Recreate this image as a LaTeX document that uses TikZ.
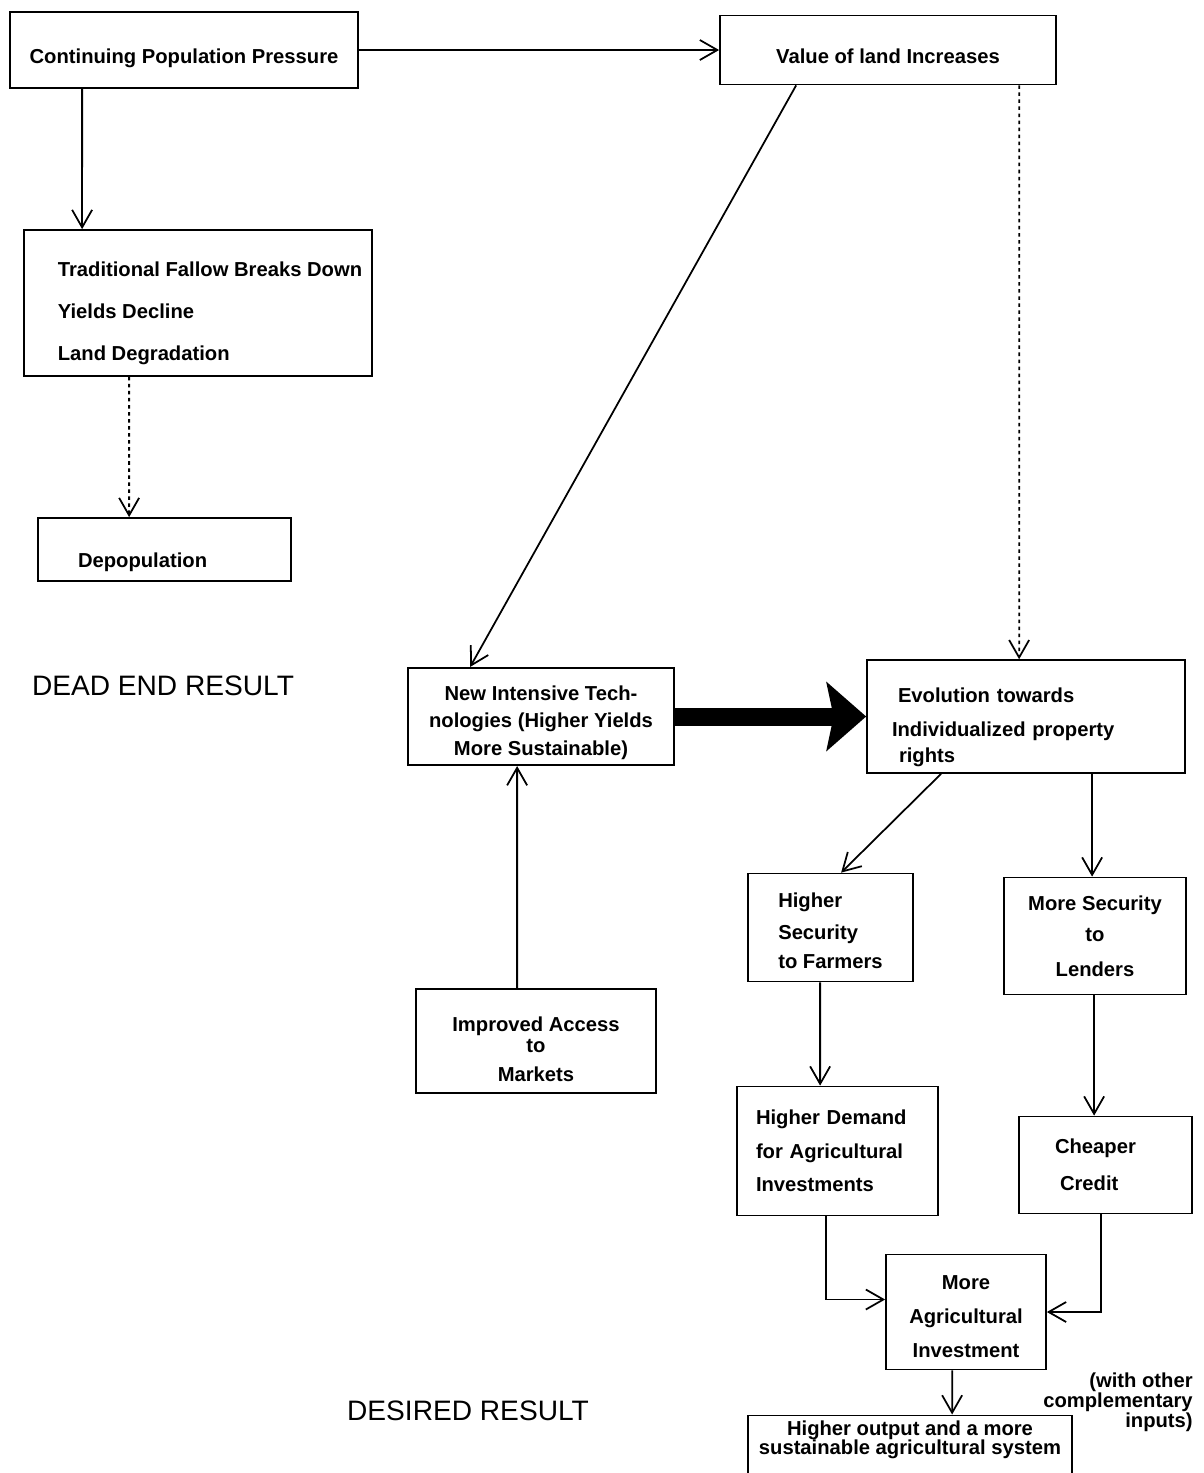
\documentclass[tikz,border=0pt]{standalone}
\usepackage{fontspec}
\setmainfont{Liberation Sans}
\usetikzlibrary{arrows.meta, positioning}

% invisible strut that pushes the first line of a box down
\newcommand{\padtop}[1]{\rule{0pt}{#1}}

\begin{document}
\begin{tikzpicture}[
        node distance=1.0cm,
        txt/.style={font=\fontsize{11.5}{14}\selectfont\bfseries},
        box/.style={rectangle, draw=black, line width=1pt, txt, align=center},
        note/.style={txt, align=right, inner sep=0pt},
        result/.style={font=\fontsize{16}{19}\selectfont},
        arrow/.style={line width=1pt, -{Straight Barb[length=0.35cm, width=0.4cm]}},
        dotarrow/.style={arrow, dash pattern=on 2pt off 2pt},
        bigarrow/.style={line width=0.36cm, -{Stealth[length=0.8cm, width=1.4cm, inset=0.15cm, line width=0pt]}}
    ]
        \useasboundingbox (0,0) rectangle (24.06,-29.46);

        \node[box, minimum width=6.96cm, minimum height=1.52cm] (pressure) at (3.68,-1.0) {\padtop{0.62cm}Continuing Population Pressure};
        \node[box, right of=pressure, xshift=13.08cm, minimum width=6.72cm, minimum height=1.38cm] (value) {\padtop{0.54cm}Value of land Increases};

        \node[box, below of=pressure, xshift=0.28cm, yshift=-4.06cm, minimum width=6.96cm, minimum height=2.92cm, align=left] (fallow) {\padtop{0.70cm}\hspace*{0.48cm}Traditional Fallow Breaks Down\\[10pt] \hspace*{0.48cm}Yields Decline\\[10pt] \hspace*{0.48cm}Land Degradation};
        \node[box, below of=fallow, xshift=-0.67cm, yshift=-3.93cm, minimum width=5.06cm, minimum height=1.26cm, align=left, text width=3.46cm, inner xsep=0.8cm, text height=0.8cm, text depth=0.08cm] (depop) {Depopulation};
        \node[result, below of=depop, xshift=-0.03cm, yshift=-1.73cm] (deadend) {DEAD END RESULT};

        \node[box, below of=value, xshift=2.76cm, yshift=-12.33cm, minimum width=6.36cm, minimum height=2.24cm, align=left, text width=5.36cm, inner xsep=0.5cm] (evolution) {\padtop{0.74cm}\hspace*{0.12cm}Evolution towards\\[5pt] Individualized property\\[1pt] \hspace*{0.14cm}rights};
        \node[box, left of=evolution, xshift=-8.70cm, minimum width=5.32cm, minimum height=1.9cm] (newtech) {\padtop{0.54cm}New Intensive Tech-\\[1pt] nologies (Higher Yields\\[2pt] More Sustainable)};
        \node[box, below of=newtech, xshift=-0.10cm, yshift=-5.49cm, minimum width=4.8cm, minimum height=2.08cm] (access) {\padtop{0.62cm}Improved Access\\[-2pt] to\\[2pt] Markets};

        \node[box, below of=evolution, xshift=-3.91cm, yshift=-3.22cm, minimum width=3.3cm, minimum height=2.16cm, align=left] (farmers) {\padtop{0.42cm}Higher\\[4pt] Security\\[2.5pt] to Farmers};
        \node[box, below of=evolution, xshift=1.38cm, yshift=-3.39cm, minimum width=3.64cm, minimum height=2.34cm] (lenders) {More Security\\[3.5pt] to\\[6pt] Lenders};
        \node[box, below of=farmers, xshift=0.14cm, yshift=-3.47cm, minimum width=4.02cm, minimum height=2.58cm, align=left, text width=3.26cm, inner xsep=0.38cm] (demand) {Higher Demand\\[5pt] for Agricultural\\[5pt] Investments};
        \node[box, below of=lenders, xshift=0.21cm, yshift=-3.58cm, minimum width=3.46cm, minimum height=1.94cm, align=left, text width=2.02cm, inner xsep=0.72cm] (cheaper) {Cheaper\\[7pt] \hspace*{0.1cm}Credit};
        \node[box, below of=demand, xshift=2.57cm, yshift=-2.22cm, minimum width=3.2cm, minimum height=2.3cm] (invest) {\padtop{0.46cm}More\\[5.5pt] Agricultural\\[5.5pt] Investment};
        \node[box, below of=invest, anchor=north, xshift=-1.12cm, yshift=-1.05cm, minimum width=6.48cm, minimum height=1.6cm,
              label={[name=outputtext, txt, anchor=north, align=center]north:{Higher output and a more\\[-3pt] sustainable agricultural system}}] (output) {};
        \node[note, below of=invest, anchor=north east, xshift=4.54cm, yshift=-0.21cm] (inputs) {(with other\\[-2.5pt] complementary\\[-2.5pt] inputs)};
        \node[result, below of=access, xshift=-1.36cm, yshift=-6.40cm] (desired) {DESIRED RESULT};

        \draw[arrow] (pressure.east) -- (value.west);
        \draw[arrow] ([xshift=1.46cm]pressure.south west) -- ([xshift=1.18cm]fallow.north west);
        \draw[dotarrow] ([xshift=2.12cm]fallow.south west) -- ([xshift=1.84cm]depop.north west);

        \draw[arrow] ([xshift=1.54cm]value.south west) -- ([xshift=1.26cm]newtech.north west);
        \draw[dotarrow] ([xshift=6.0cm]value.south west) -- ([xshift=3.06cm]evolution.north west);
        \draw[bigarrow] (newtech.east) -- (evolution.west);
        \draw[arrow] ([xshift=2.04cm]access.north west) -- ([xshift=2.2cm]newtech.south west);

        \draw[arrow] ([xshift=1.5cm]evolution.south west) -- ([xshift=1.88cm]farmers.north west);
        \draw[arrow] ([xshift=4.52cm]evolution.south west) -- ([xshift=1.78cm]lenders.north west);
        \draw[arrow] ([xshift=1.46cm]farmers.south west) -- ([xshift=1.68cm]demand.north west);
        \draw[arrow] ([xshift=1.82cm]lenders.south west) -- ([xshift=1.52cm]cheaper.north west);

        \draw[arrow] ([xshift=1.8cm]demand.south west) |- ([yshift=0.25cm]invest.west);
        \draw[arrow] ([xshift=1.66cm]cheaper.south west) |- (invest.east);
        \draw[arrow] ([xshift=1.34cm]invest.south west) -- ([xshift=4.1cm]output.north west);
    \end{tikzpicture}
\end{document}
